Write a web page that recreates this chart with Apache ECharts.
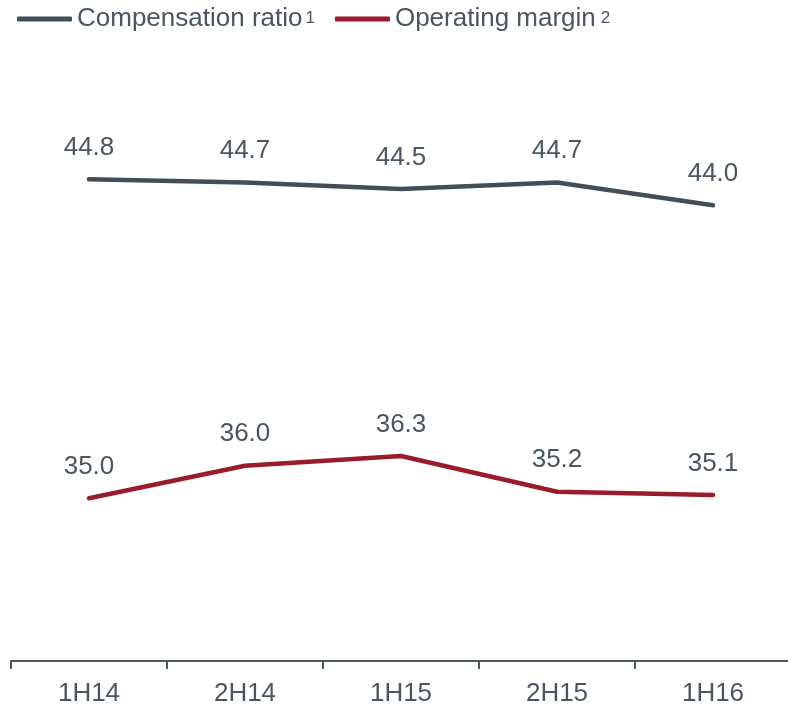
<!DOCTYPE html>
<html>
<head>
<meta charset="utf-8">
<script src="https://cdn.jsdelivr.net/npm/echarts@6/dist/echarts.min.js"></script>
<style>
  html, body { margin: 0; padding: 0; background: #fff; overflow: hidden; }
  #main { width: 788px; height: 714px; }
</style>
</head>
<body>
<div id="main"></div>
<script>
// data
var categories = ['1H14', '2H14', '1H15', '2H15', '1H16'];
var compensationRatio = [44.8, 44.7, 44.5, 44.7, 44.0];
var operatingMargin = [35.0, 36.0, 36.3, 35.2, 35.1];
var seriesNames = ['Compensation ratio', 'Operating margin'];
var footnotes = ['{supA|1}', '{supB|2}'];

var grey = '#434e56';
var red = '#9a1b2b';
var textGrey = '#4b5660';
var font = 'Arial, "Liberation Sans", sans-serif';

var myChart = echarts.init(document.getElementById('main'));

function lineSeries(name, data, color) {
    return {
        name: name,
        type: 'line',
        data: data,
        // tiny symbol so the labels are kept
        symbol: 'circle',
        symbolSize: 1,
        lineStyle: { color: color, width: 4.5, cap: 'round', join: 'round' },
        itemStyle: { color: color },
        label: {
            show: true,
            position: 'top',
            distance: 18,
            color: textGrey,
            fontSize: 26,
            fontFamily: font,
            formatter: function (p) { return Number(p.value).toFixed(1); }
        },
        emphasis: { disabled: true }
    };
}

var option = {
    backgroundColor: '#fff',
    animation: false,
    legend: {
        left: 12,
        top: 1,
        itemWidth: 55,
        itemHeight: 5,
        itemGap: 20,
        icon: 'roundRect',
        formatter: function (name) {
            return name + footnotes[seriesNames.indexOf(name)];
        },
        textStyle: {
            color: textGrey, fontSize: 26, fontFamily: font,
            rich: {
                supA: { color: textGrey, fontSize: 17, fontFamily: font, padding: [0, 0, 2, 3] },
                supB: { color: textGrey, fontSize: 17, fontFamily: font, padding: [0, 0, 2, 5] }
            }
        },
        data: seriesNames
    },
    grid: { left: 11, width: 780, top: 10, bottom: 53, outerBoundsMode: 'none' },
    xAxis: {
        type: 'category',
        data: categories,
        boundaryGap: true,
        axisLine: { lineStyle: { color: '#4e5a63', width: 2 } },
        axisTick: { show: true, length: 8, lineStyle: { color: '#4e5a63', width: 2 } },
        axisLabel: { color: textGrey, fontSize: 26, fontFamily: font, margin: 20 }
    },
    yAxis: {
        type: 'value',
        min: 30,
        max: 50,
        show: false,
        splitLine: { show: false }
    },
    series: [
        lineSeries(seriesNames[0], compensationRatio, grey),
        lineSeries(seriesNames[1], operatingMargin, red)
    ]
};

myChart.setOption(option);
</script>
</body>
</html>
